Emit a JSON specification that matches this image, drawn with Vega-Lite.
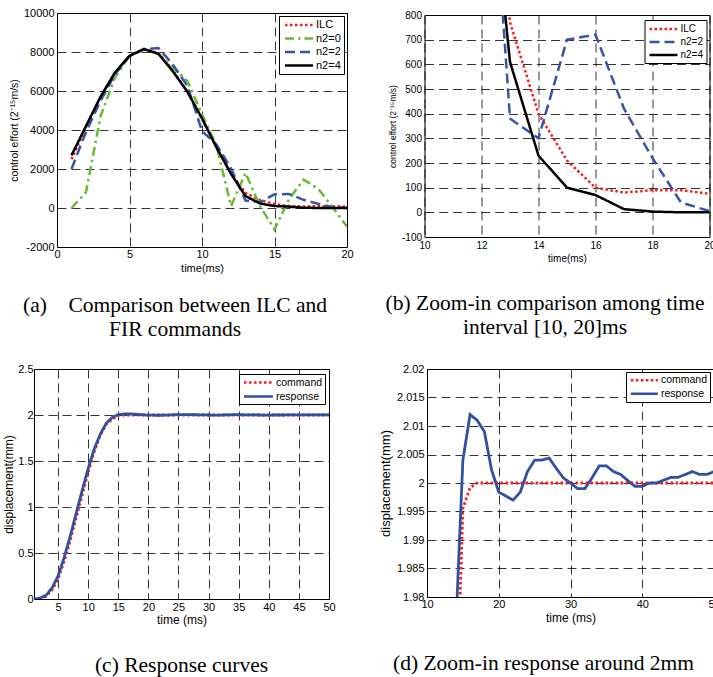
{
  "$schema": "https://vega.github.io/schema/vega-lite/v6.json",
  "padding": {"top": 6, "left": 0, "right": 0, "bottom": 0},
  "background": "white",
  "datasets": {
    "effort": [
      {"t":1,"series":"ILC","value":2500},{"t":2,"series":"ILC","value":4150},{"t":3,"series":"ILC","value":5700},{"t":4,"series":"ILC","value":6950},{"t":5,"series":"ILC","value":7800},{"t":6,"series":"ILC","value":8150},{"t":7,"series":"ILC","value":7950},{"t":8,"series":"ILC","value":7050},{"t":9,"series":"ILC","value":5950},{"t":10,"series":"ILC","value":4550},{"t":11,"series":"ILC","value":3150},{"t":12,"series":"ILC","value":1800},{"t":13,"series":"ILC","value":770},{"t":14,"series":"ILC","value":400},{"t":15,"series":"ILC","value":210},{"t":16,"series":"ILC","value":100},{"t":17,"series":"ILC","value":80},{"t":18,"series":"ILC","value":90},{"t":19,"series":"ILC","value":90},{"t":20,"series":"ILC","value":75},
      {"t":1,"series":"n2=0","value":0},{"t":2,"series":"n2=0","value":800},{"t":3,"series":"n2=0","value":4700},{"t":4,"series":"n2=0","value":6700},{"t":5,"series":"n2=0","value":7800},{"t":6,"series":"n2=0","value":8150},{"t":7,"series":"n2=0","value":7900},{"t":8,"series":"n2=0","value":7200},{"t":9,"series":"n2=0","value":6500},{"t":10,"series":"n2=0","value":4800},{"t":11,"series":"n2=0","value":3200},{"t":12,"series":"n2=0","value":100},{"t":13,"series":"n2=0","value":1800},{"t":14,"series":"n2=0","value":100},{"t":15,"series":"n2=0","value":-1100},{"t":16,"series":"n2=0","value":450},{"t":17,"series":"n2=0","value":1450},{"t":18,"series":"n2=0","value":1000},{"t":19,"series":"n2=0","value":50},{"t":20,"series":"n2=0","value":-950},
      {"t":1,"series":"n2=2","value":2000},{"t":2,"series":"n2=2","value":3900},{"t":3,"series":"n2=2","value":5500},{"t":4,"series":"n2=2","value":6850},{"t":5,"series":"n2=2","value":7800},{"t":6,"series":"n2=2","value":8150},{"t":7,"series":"n2=2","value":8200},{"t":8,"series":"n2=2","value":7350},{"t":9,"series":"n2=2","value":6250},{"t":10,"series":"n2=2","value":3950},{"t":11,"series":"n2=2","value":3250},{"t":12,"series":"n2=2","value":2050},{"t":13,"series":"n2=2","value":380},{"t":14,"series":"n2=2","value":300},{"t":15,"series":"n2=2","value":700},{"t":16,"series":"n2=2","value":720},{"t":17,"series":"n2=2","value":420},{"t":18,"series":"n2=2","value":220},{"t":19,"series":"n2=2","value":40},{"t":20,"series":"n2=2","value":5},
      {"t":1,"series":"n2=4","value":2700},{"t":2,"series":"n2=4","value":4200},{"t":3,"series":"n2=4","value":5700},{"t":4,"series":"n2=4","value":6950},{"t":5,"series":"n2=4","value":7800},{"t":6,"series":"n2=4","value":8150},{"t":7,"series":"n2=4","value":7900},{"t":8,"series":"n2=4","value":7000},{"t":9,"series":"n2=4","value":5950},{"t":10,"series":"n2=4","value":4600},{"t":11,"series":"n2=4","value":3100},{"t":12,"series":"n2=4","value":1750},{"t":13,"series":"n2=4","value":610},{"t":14,"series":"n2=4","value":230},{"t":15,"series":"n2=4","value":100},{"t":16,"series":"n2=4","value":70},{"t":17,"series":"n2=4","value":13},{"t":18,"series":"n2=4","value":3},{"t":19,"series":"n2=4","value":0},{"t":20,"series":"n2=4","value":0}
    ],
    "disp": [
      {"t":1,"series":"command","value":0},{"t":2,"series":"command","value":0.005},{"t":3,"series":"command","value":0.03},{"t":4,"series":"command","value":0.1},{"t":5,"series":"command","value":0.22},{"t":6,"series":"command","value":0.41},{"t":7,"series":"command","value":0.63},{"t":8,"series":"command","value":0.88},{"t":9,"series":"command","value":1.13},{"t":10,"series":"command","value":1.38},{"t":11,"series":"command","value":1.6},{"t":12,"series":"command","value":1.78},{"t":13,"series":"command","value":1.9},{"t":14,"series":"command","value":1.955},{"t":15,"series":"command","value":1.9955},{"t":16,"series":"command","value":1.9992},{"t":17,"series":"command","value":2},{"t":18,"series":"command","value":2},{"t":19,"series":"command","value":2},{"t":20,"series":"command","value":2},{"t":21,"series":"command","value":2},{"t":22,"series":"command","value":2},{"t":23,"series":"command","value":2},{"t":24,"series":"command","value":2},{"t":25,"series":"command","value":2},{"t":26,"series":"command","value":2},{"t":27,"series":"command","value":2},{"t":28,"series":"command","value":2},{"t":29,"series":"command","value":2},{"t":30,"series":"command","value":2},{"t":31,"series":"command","value":2},{"t":32,"series":"command","value":2},{"t":33,"series":"command","value":2},{"t":34,"series":"command","value":2},{"t":35,"series":"command","value":2},{"t":36,"series":"command","value":2},{"t":37,"series":"command","value":2},{"t":38,"series":"command","value":2},{"t":39,"series":"command","value":2},{"t":40,"series":"command","value":2},{"t":41,"series":"command","value":2},{"t":42,"series":"command","value":2},{"t":43,"series":"command","value":2},{"t":44,"series":"command","value":2},{"t":45,"series":"command","value":2},{"t":46,"series":"command","value":2},{"t":47,"series":"command","value":2},{"t":48,"series":"command","value":2},{"t":49,"series":"command","value":2},{"t":50,"series":"command","value":2},
      {"t":1,"series":"response","value":0},{"t":2,"series":"response","value":0.01},{"t":3,"series":"response","value":0.04},{"t":4,"series":"response","value":0.12},{"t":5,"series":"response","value":0.25},{"t":6,"series":"response","value":0.45},{"t":7,"series":"response","value":0.68},{"t":8,"series":"response","value":0.93},{"t":9,"series":"response","value":1.18},{"t":10,"series":"response","value":1.42},{"t":11,"series":"response","value":1.63},{"t":12,"series":"response","value":1.79},{"t":13,"series":"response","value":1.91},{"t":14,"series":"response","value":1.974},{"t":15,"series":"response","value":2.004},{"t":16,"series":"response","value":2.012},{"t":17,"series":"response","value":2.011},{"t":18,"series":"response","value":2.009},{"t":19,"series":"response","value":2.0023},{"t":20,"series":"response","value":1.9984},{"t":21,"series":"response","value":1.9977},{"t":22,"series":"response","value":1.997},{"t":23,"series":"response","value":1.9984},{"t":24,"series":"response","value":2.002},{"t":25,"series":"response","value":2.004},{"t":26,"series":"response","value":2.004},{"t":27,"series":"response","value":2.0044},{"t":28,"series":"response","value":2.0026},{"t":29,"series":"response","value":2.0009},{"t":30,"series":"response","value":2.0},{"t":31,"series":"response","value":1.999},{"t":32,"series":"response","value":1.999},{"t":33,"series":"response","value":2.0009},{"t":34,"series":"response","value":2.003},{"t":35,"series":"response","value":2.003},{"t":36,"series":"response","value":2.002},{"t":37,"series":"response","value":2.0015},{"t":38,"series":"response","value":2.0004},{"t":39,"series":"response","value":1.9994},{"t":40,"series":"response","value":1.9994},{"t":41,"series":"response","value":2.0},{"t":42,"series":"response","value":2.0},{"t":43,"series":"response","value":2.0005},{"t":44,"series":"response","value":2.001},{"t":45,"series":"response","value":2.001},{"t":46,"series":"response","value":2.0015},{"t":47,"series":"response","value":2.002},{"t":48,"series":"response","value":2.0015},{"t":49,"series":"response","value":2.0015},{"t":50,"series":"response","value":2.002}
    ]
  },
  "config": {
    "view": {"stroke": "black", "strokeWidth": 1},
    "axis": {"grid": true, "gridColor": "black", "gridDash": [9, 5], "gridWidth": 0.8, "gridOpacity": 1, "domain": false, "ticks": false, "tickSize": 0, "labelFont": "Liberation Sans", "titleFont": "Liberation Sans", "labelColor": "black", "titleColor": "black", "titleFontWeight": "normal", "labelFlush": false, "labelOverlap": false, "labelExpr": "toString(datum.value)"},
    "legend": {"title": null, "orient": "none", "strokeColor": "black", "fillColor": "white", "cornerRadius": 0, "labelFont": "Liberation Sans", "labelColor": "black", "symbolStrokeWidth": 2.5, "symbolType": "M-3,0H3", "labelLimit": 200},
    "title": {"font": "Liberation Serif", "fontWeight": "normal", "color": "black", "orient": "bottom", "anchor": "middle", "frame": "group", "lineHeight": 24}
  },
  "spacing": 21,
  "resolve": {"scale": {"color": "independent", "strokeDash": "independent", "x": "independent", "y": "independent"}, "legend": {"color": "independent", "strokeDash": "independent"}},
  "vconcat": [
    {
      "resolve": {"scale": {"color": "independent", "strokeDash": "independent", "x": "independent", "y": "independent"}, "legend": {"color": "independent", "strokeDash": "independent"}},
      "hconcat": [
        {
          "resolve": {"scale": {"color": "independent", "strokeDash": "independent", "x": "independent", "y": "independent"}, "legend": {"color": "independent", "strokeDash": "independent"}},
          "spacing": 0,
          "hconcat": [
            {"width": 8, "height": 10, "data": {"values": []}, "mark": {"type": "point", "opacity": 0}, "encoding": {}, "view": {"stroke": null}},
            {
              "width": 290, "height": 234,
              "data": {"name": "effort"},
              "title": {"text": ["(a)\u00a0\u00a0\u00a0\u00a0Comparison between ILC and", "FIR commands"], "fontSize": 21.5, "offset": 22, "dx": -27},
              "mark": {"type": "line", "strokeWidth": 2.5, "clip": true},
              "encoding": {
                "x": {"field": "t", "type": "quantitative", "scale": {"domain": [0, 20], "nice": false, "zero": false},
                      "axis": {"title": "time(ms)", "values": [0, 5, 10, 15, 20], "labelFontSize": 11, "titleFontSize": 11, "labelPadding": 1, "titlePadding": 3}},
                "y": {"field": "value", "type": "quantitative", "scale": {"domain": [-2000, 10000], "nice": false, "zero": false},
                      "axis": {"title": "control effort (2\u207b\u00b9\u2075m/s)", "values": [-2000, 0, 2000, 4000, 6000, 8000, 10000], "labelFontSize": 11, "titleFontSize": 10.5, "labelPadding": 3, "titlePadding": 4}},
                "color": {"field": "series", "type": "nominal", "scale": {"domain": ["ILC", "n2=0", "n2=2", "n2=4"], "range": ["#ff1a1a", "#66bb33", "#3355aa", "#000000"]},
                          "legend": {"legendX": 222, "legendY": 3, "symbolSize": 87, "symbolOffset": 11, "labelOffset": 11, "labelFontSize": 11, "padding": 3, "rowPadding": 2.5}},
                "strokeDash": {"field": "series", "type": "nominal", "scale": {"domain": ["ILC", "n2=0", "n2=2", "n2=4"], "range": [[2.5, 2.5], [9, 4, 2.5, 4], [10, 5], [1, 0]]},
                          "legend": {"legendX": 222, "legendY": 3, "symbolSize": 87, "symbolOffset": 11, "labelOffset": 11, "labelFontSize": 11, "padding": 3, "rowPadding": 2.5}}
              }
            }
          ]
        },
        {
          "width": 285, "height": 222,
          "data": {"name": "effort"},
          "transform": [{"filter": "datum.series != 'n2=0'"}],
          "title": {"text": ["(b) Zoom-in comparison among time", "interval [10, 20]ms"], "fontSize": 21.5, "offset": 30, "dx": -22},
          "mark": {"type": "line", "strokeWidth": 2.5, "clip": true},
          "encoding": {
            "x": {"field": "t", "type": "quantitative", "scale": {"domain": [10, 20], "nice": false, "zero": false},
                  "axis": {"title": "time(ms)", "values": [10, 12, 14, 16, 18, 20], "labelFontSize": 10, "titleFontSize": 10, "labelPadding": 3, "titlePadding": 3}},
            "y": {"field": "value", "type": "quantitative", "scale": {"domain": [-100, 800], "nice": false, "zero": false},
                  "axis": {"title": "control effort (2\u207b\u00b9\u2075m/s)", "values": [-100, 0, 100, 200, 300, 400, 500, 600, 700, 800], "labelFontSize": 10, "titleFontSize": 8.5, "labelPadding": 3, "titlePadding": 4}},
            "color": {"field": "series", "type": "nominal", "scale": {"domain": ["ILC", "n2=2", "n2=4"], "range": ["#ff1a1a", "#3355aa", "#000000"]},
                      "legend": {"legendX": 220, "legendY": 5, "symbolSize": 87, "symbolOffset": 10, "labelOffset": 11, "labelFontSize": 10, "padding": 3, "rowPadding": 2}},
            "strokeDash": {"field": "series", "type": "nominal", "scale": {"domain": ["ILC", "n2=2", "n2=4"], "range": [[2.5, 2.5], [10, 5], [1, 0]]},
                      "legend": {"legendX": 220, "legendY": 5, "symbolSize": 87, "symbolOffset": 10, "labelOffset": 11, "labelFontSize": 10, "padding": 3, "rowPadding": 2}}
          }
        }
      ],
      "spacing": 30.5, "center": true
    },
    {
      "resolve": {"scale": {"color": "independent", "strokeDash": "independent", "x": "independent", "y": "independent"}, "legend": {"color": "independent", "strokeDash": "independent"}},
      "hconcat": [
        {
          "resolve": {"scale": {"color": "independent", "strokeDash": "independent", "x": "independent", "y": "independent"}, "legend": {"color": "independent", "strokeDash": "independent"}},
          "spacing": 0,
          "hconcat": [
            {"width": 1, "height": 10, "data": {"values": []}, "mark": {"type": "point", "opacity": 0}, "encoding": {}, "view": {"stroke": null}},
            {
              "width": 295, "height": 230,
              "data": {"name": "disp"},
              "title": {"text": "(c) Response curves", "fontSize": 21.5, "offset": 30, "dx": 0},
              "mark": {"type": "line", "strokeWidth": 2.8, "clip": true},
              "encoding": {
                "x": {"field": "t", "type": "quantitative", "scale": {"domain": [1, 50], "nice": false, "zero": false},
                      "axis": {"title": "time (ms)", "values": [5, 10, 15, 20, 25, 30, 35, 40, 45, 50], "labelFontSize": 11, "titleFontSize": 12, "labelPadding": 2, "titlePadding": 2}},
                "y": {"field": "value", "type": "quantitative", "scale": {"domain": [0, 2.5], "nice": false, "zero": false},
                      "axis": {"title": "displacement(mm)", "values": [0, 0.5, 1, 1.5, 2, 2.5], "labelFontSize": 11, "titleFontSize": 12, "labelPadding": 1, "titlePadding": 2.7}},
                "color": {"field": "series", "type": "nominal", "scale": {"domain": ["command", "response"], "range": ["#ff1a1a", "#3050a0"]},
                          "legend": {"legendX": 205, "legendY": 5, "symbolSize": 93, "symbolOffset": 11, "labelOffset": 11, "labelFontSize": 10.5, "padding": 2, "rowPadding": 2}},
                "strokeDash": {"field": "series", "type": "nominal", "scale": {"domain": ["command", "response"], "range": [[2.5, 2.5], [1, 0]]},
                          "legend": {"legendX": 205, "legendY": 5, "symbolSize": 93, "symbolOffset": 11, "labelOffset": 11, "labelFontSize": 10.5, "padding": 2, "rowPadding": 2}}
              }
            }
          ]
        },
        {
          "width": 287, "height": 228,
          "data": {"name": "disp"},
          "title": {"text": "(d) Zoom-in response around 2mm", "fontSize": 21.5, "offset": 30, "dx": -27},
          "mark": {"type": "line", "strokeWidth": 2.8, "clip": true},
          "encoding": {
            "x": {"field": "t", "type": "quantitative", "scale": {"domain": [10, 50], "nice": false, "zero": false},
                  "axis": {"title": "time (ms)", "values": [10, 20, 30, 40, 50], "labelFontSize": 11, "titleFontSize": 12, "labelPadding": 1.5, "titlePadding": 2.5}},
            "y": {"field": "value", "type": "quantitative", "scale": {"domain": [1.98, 2.02], "nice": false, "zero": false},
                  "axis": {"title": "displacement(mm)", "values": [1.98, 1.985, 1.99, 1.995, 2, 2.005, 2.01, 2.015, 2.02], "labelFontSize": 11, "titleFontSize": 13, "labelPadding": 3, "titlePadding": 3.5}},
            "color": {"field": "series", "type": "nominal", "scale": {"domain": ["command", "response"], "range": ["#ff1a1a", "#3050a0"]},
                      "legend": {"legendX": 199, "legendY": 3, "symbolSize": 81, "symbolOffset": 10, "labelOffset": 10.6, "labelFontSize": 10.5, "padding": 2.35, "rowPadding": 1.3}},
            "strokeDash": {"field": "series", "type": "nominal", "scale": {"domain": ["command", "response"], "range": [[2.5, 2.5], [1, 0]]},
                      "legend": {"legendX": 199, "legendY": 3, "symbolSize": 81, "symbolOffset": 10, "labelOffset": 10.6, "labelFontSize": 10.5, "padding": 2.35, "rowPadding": 1.3}}
          }
        }
      ],
      "spacing": 43
    }
  ]
}
